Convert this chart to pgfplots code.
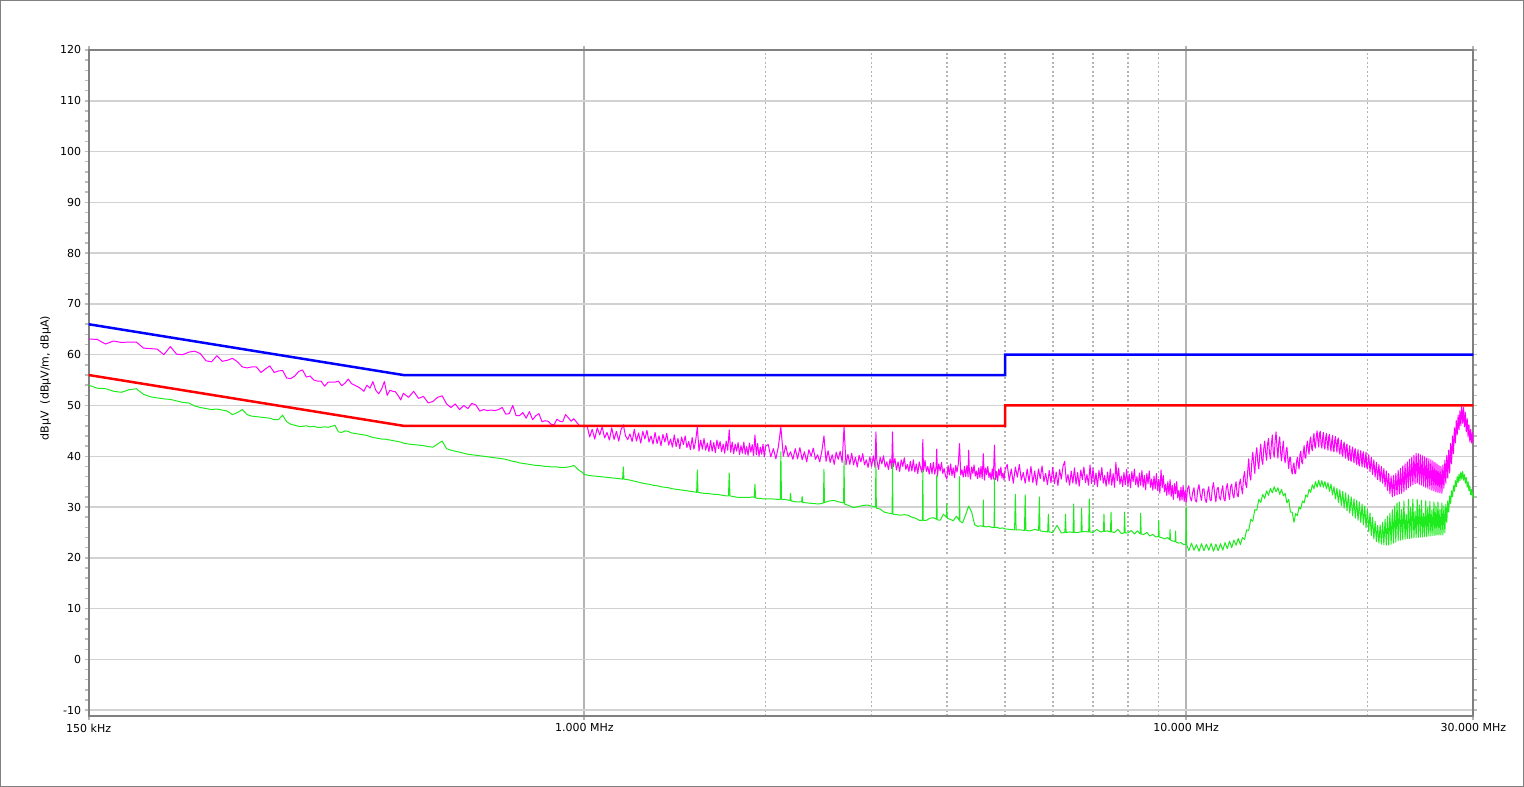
\documentclass[border=0pt]{standalone}
\usepackage{fontspec}
\setmainfont{DejaVu Sans}
\usepackage{pgfplots}
\usepackage{pgfplotstable}
\pgfplotsset{compat=1.18}
\definecolor{pkc}{RGB}{255,0,255}
\definecolor{avc}{RGB}{30,235,30}
\definecolor{qpc}{RGB}{0,0,255}
\definecolor{limc}{RGB}{255,0,0}
\definecolor{framec}{RGB}{128,128,128}
\definecolor{hgrid}{RGB}{210,210,210}
\definecolor{vgrid}{RGB}{180,180,180}
\definecolor{ticc}{RGB}{190,190,190}

% Peak trace (MHz, dBuV)
\pgfplotstableread{
f v
0.150 63.1
0.155 63.0
0.160 62.1
0.165 62.7
0.170 62.4
0.175 62.5
0.180 62.5
0.185 61.3
0.190 61.2
0.195 61.1
0.200 60.0
0.205 61.6
0.210 60.1
0.215 60.0
0.220 60.5
0.225 60.7
0.230 60.2
0.235 58.8
0.240 58.6
0.245 59.8
0.250 58.7
0.255 58.9
0.260 59.3
0.265 58.6
0.270 57.6
0.275 57.4
0.280 57.6
0.285 57.6
0.290 56.5
0.295 57.2
0.300 57.8
0.305 56.5
0.310 56.8
0.315 56.9
0.320 55.4
0.325 55.3
0.330 55.8
0.335 56.7
0.340 57.0
0.345 55.6
0.350 55.8
0.355 55.0
0.360 54.8
0.365 54.8
0.370 53.8
0.375 54.6
0.380 54.6
0.385 54.6
0.390 54.8
0.395 53.9
0.400 54.4
0.405 55.2
0.410 54.3
0.415 54.0
0.420 53.7
0.425 53.3
0.430 52.8
0.435 54.0
0.440 53.4
0.445 54.7
0.450 53.0
0.455 52.3
0.460 53.2
0.465 54.7
0.470 52.0
0.475 53.0
0.480 52.8
0.485 52.7
0.490 52.0
0.495 51.1
0.500 52.4
0.51 51.6
0.52 52.8
0.53 51.4
0.54 51.8
0.55 50.5
0.56 50.8
0.57 51.6
0.58 51.9
0.59 50.3
0.60 49.6
0.61 50.3
0.62 49.2
0.63 50.0
0.64 49.4
0.65 50.4
0.66 50.1
0.67 48.9
0.68 49.2
0.69 49.0
0.70 49.1
0.71 49.0
0.72 49.2
0.73 49.6
0.74 48.3
0.75 48.4
0.76 50.0
0.77 48.0
0.78 48.0
0.79 48.6
0.80 47.5
0.81 48.8
0.82 47.2
0.83 48.0
0.84 48.4
0.85 46.8
0.86 47.0
0.87 46.9
0.88 46.3
0.89 46.2
0.90 47.3
0.91 46.9
0.92 46.8
0.93 48.2
0.94 47.6
0.95 46.9
0.96 47.4
0.97 46.7
0.98 46.1
0.99 45.9
1.00 45.8
1.01 46.0
1.02 43.8
1.03 45.3
1.04 43.4
1.05 45.6
1.06 44.2
1.07 45.8
1.08 43.6
1.09 44.7
1.10 43.2
1.11 45.6
1.12 43.3
1.13 44.9
1.14 43.0
1.15 45.2
1.16 46.2
1.17 44.0
1.18 43.3
1.19 44.4
1.20 42.9
1.21 45.3
1.22 43.0
1.23 44.6
1.24 42.6
1.25 44.9
1.26 43.4
1.27 45.1
1.28 42.8
1.29 44.0
1.30 42.4
1.31 44.7
1.32 42.5
1.33 44.0
1.34 42.1
1.35 44.3
1.36 42.8
1.37 44.5
1.38 42.2
1.39 43.4
1.40 41.8
1.41 44.2
1.42 41.9
1.43 43.5
1.44 41.5
1.45 43.8
1.46 42.3
1.47 44.0
1.48 41.7
1.49 42.9
1.50 41.3
1.51 43.7
1.52 41.4
1.53 43.0
1.54 45.8
1.55 41.0
1.56 43.2
1.57 41.4
1.58 43.5
1.59 41.2
1.60 42.6
1.61 40.9
1.62 43.1
1.63 41.0
1.64 42.7
1.65 40.7
1.66 43.2
1.67 41.5
1.68 42.9
1.69 40.9
1.70 42.4
1.71 40.6
1.72 43.0
1.73 41.2
1.74 45.2
1.75 40.8
1.76 42.8
1.77 40.5
1.78 42.4
1.79 41.0
1.80 42.7
1.81 40.3
1.82 42.1
1.83 40.6
1.84 42.8
1.85 40.4
1.86 41.9
1.87 40.2
1.88 42.6
1.89 40.8
1.90 42.3
1.91 40.1
1.92 44.2
1.93 40.3
1.94 42.5
1.95 40.0
1.96 41.8
1.97 40.4
1.98 42.4
1.99 39.9
2.00 42.0
2.02 42.3
2.04 39.9
2.06 41.5
2.08 39.5
2.10 41.9
2.12 45.8
2.14 40.0
2.16 42.1
2.18 39.9
2.20 40.9
2.22 39.4
2.24 41.5
2.26 39.5
2.28 41.7
2.30 39.3
2.32 40.9
2.34 38.9
2.36 41.3
2.38 40.0
2.40 41.6
2.42 39.4
2.44 40.3
2.46 38.9
2.48 41.0
2.50 44.0
2.52 39.0
2.54 41.1
2.56 38.8
2.58 40.3
2.60 38.4
2.62 40.8
2.64 39.4
2.66 41.0
2.68 38.8
2.70 45.8
2.72 38.3
2.74 40.4
2.76 38.4
2.78 40.6
2.80 38.3
2.82 39.8
2.84 37.9
2.86 40.2
2.88 38.9
2.90 40.5
2.92 38.3
2.94 39.3
2.96 37.8
2.98 39.9
3.00 38.0
3.02 40.1
3.04 37.8
3.05 44.8
3.06 39.4
3.08 37.4
3.10 39.8
3.12 38.5
3.14 40.1
3.16 37.9
3.18 38.9
3.20 37.4
3.22 39.5
3.24 37.6
3.25 44.8
3.26 38.0
3.28 39.6
3.30 37.3
3.32 38.9
3.34 37.0
3.36 39.3
3.38 38.0
3.40 39.7
3.42 37.4
3.44 38.4
3.46 37.0
3.48 39.0
3.50 37.1
3.52 39.3
3.54 36.9
3.56 38.5
3.58 36.6
3.60 38.9
3.62 37.6
3.64 36.8
3.65 43.3
3.66 37.0
3.68 39.2
3.70 37.0
3.72 38.0
3.74 36.5
3.76 38.6
3.78 36.6
3.80 38.8
3.82 36.5
3.84 37.9
3.85 41.4
3.86 36.1
3.88 38.5
3.90 37.1
3.92 38.8
3.94 36.6
3.96 37.6
3.98 36.2
4.00 35.5
4.02 38.2
4.04 36.3
4.06 38.5
4.08 36.2
4.10 37.7
4.12 35.8
4.14 38.2
4.16 36.9
4.18 38.5
4.20 42.5
4.22 36.3
4.24 37.3
4.26 35.9
4.28 38.0
4.30 36.0
4.32 38.2
4.34 35.9
4.35 41.2
4.36 37.4
4.38 35.5
4.40 37.9
4.42 36.6
4.44 38.3
4.46 36.1
4.48 37.1
4.50 35.6
4.52 37.7
4.54 35.8
4.56 38.0
4.58 35.6
4.60 40.5
4.62 35.3
4.64 37.7
4.66 36.4
4.68 38.0
4.70 35.8
4.72 36.8
4.74 35.4
4.76 37.5
4.78 35.5
4.80 42.2
4.82 35.4
4.84 37.0
4.86 35.1
4.88 37.5
4.90 36.2
4.92 37.9
4.94 35.7
4.96 36.7
4.98 35.3
5.00 37.4
5.04 38.4
5.08 35.2
5.12 37.5
5.16 34.7
5.20 37.9
5.24 35.9
5.28 38.4
5.32 35.3
5.36 36.8
5.40 34.7
5.44 37.5
5.48 35.0
5.52 38.0
5.56 34.8
5.60 37.1
5.64 34.3
5.68 37.5
5.72 35.6
5.76 38.1
5.80 35.0
5.84 36.6
5.88 34.4
5.92 37.2
5.96 34.8
6.00 37.8
6.04 34.6
6.08 36.9
6.12 34.2
6.16 37.4
6.20 35.5
6.24 38.0
6.28 39.0
6.32 34.9
6.36 36.4
6.40 34.3
6.44 37.1
6.48 34.7
6.52 37.7
6.56 34.5
6.60 36.8
6.64 34.1
6.68 37.3
6.72 35.4
6.76 37.9
6.80 34.8
6.84 36.4
6.88 34.3
6.92 38.3
6.96 34.6
7.00 37.6
7.04 34.4
7.08 36.7
7.12 34.0
7.16 37.2
7.20 35.3
7.24 37.8
7.28 34.7
7.32 36.2
7.36 34.1
7.40 36.9
7.44 34.5
7.48 37.5
7.52 34.3
7.56 36.6
7.60 33.9
7.64 38.8
7.68 35.2
7.72 37.7
7.76 34.5
7.80 36.1
7.84 34.0
7.88 36.8
7.92 34.4
7.96 37.4
8.00 34.2
8.04 36.5
8.08 33.8
8.12 37.0
8.16 35.0
8.20 37.5
8.24 34.4
8.28 36.0
8.32 33.9
8.36 36.7
8.40 34.3
8.44 37.2
8.48 33.9
8.52 36.2
8.56 33.4
8.60 36.6
8.64 34.6
8.68 37.1
8.72 33.9
8.76 35.5
8.80 33.3
8.84 36.1
8.88 33.6
8.92 36.6
8.96 33.3
9.00 35.5
9.04 32.7
9.08 37.3
9.12 33.8
9.16 36.2
9.20 33.0
9.24 34.5
9.28 32.3
9.32 35.0
9.36 32.5
9.40 35.4
9.44 32.1
9.48 34.3
9.52 31.5
9.56 34.6
9.60 32.6
9.64 35.0
9.68 31.8
9.72 33.3
9.76 31.2
9.80 33.9
9.84 31.4
9.88 34.3
9.92 31.1
9.96 33.3
10.00 31.0
10.05 33.6
10.1 34.2
10.15 31.9
10.2 31.2
10.25 32.9
10.3 33.8
10.35 31.3
10.4 31.0
10.45 33.4
10.5 34.4
10.55 32.5
10.6 31.3
10.65 33.5
10.7 33.6
10.75 31.5
10.8 30.9
10.85 32.9
10.9 34.0
10.95 31.5
11.0 31.2
11.05 33.7
11.1 34.8
11.15 32.6
11.2 31.0
11.25 33.5
11.3 33.9
11.35 31.9
11.4 31.4
11.45 33.2
11.5 34.2
11.55 31.6
11.6 31.2
11.65 33.6
11.7 34.6
11.75 32.8
11.8 31.5
11.85 34.0
11.9 34.5
11.95 32.4
12.0 31.8
12.05 33.8
12.1 35.0
12.15 32.4
12.2 32.0
12.25 34.5
12.3 35.5
12.35 33.8
12.4 32.6
12.45 35.8
12.5 37.0
12.55 34.6
12.6 33.8
12.65 37.1
12.7 39.5
12.75 36.3
12.8 35.3
12.85 38.8
12.9 40.8
12.95 38.4
13.0 36.6
13.05 40.2
13.1 41.7
13.15 38.8
13.2 37.5
13.25 40.4
13.3 42.4
13.35 39.3
13.4 38.4
13.45 41.4
13.5 43.0
13.55 40.8
13.6 39.2
13.65 42.4
13.7 43.5
13.75 40.7
13.8 39.5
13.85 42.3
13.9 44.2
13.95 40.9
14.0 39.8
14.05 43.0
14.1 44.8
14.15 41.9
14.2 39.6
14.25 42.7
14.3 43.8
14.35 40.7
14.4 39.1
14.45 41.5
14.5 43.0
14.55 39.8
14.6 38.7
14.65 41.0
14.7 41.8
14.75 39.4
14.8 37.6
14.85 39.7
14.9 39.8
14.95 37.4
15.0 36.5
15.05 38.0
15.1 38.7
15.15 36.6
15.2 36.6
15.25 38.9
15.3 39.8
15.35 38.4
15.4 37.5
15.45 40.3
15.5 41.0
15.55 39.0
15.6 38.5
15.65 40.7
15.7 42.1
15.75 39.8
15.8 39.6
15.85 42.0
15.9 43.0
15.95 41.4
16.0 40.4
16.05 43.1
16.1 43.8
16.15 41.7
16.2 41.1
16.25 43.2
16.3 44.5
16.35 42.0
16.4 41.6
16.45 44.0
16.5 45.0
16.55 43.1
16.6 41.8
16.65 44.4
16.7 44.9
16.75 42.5
16.8 41.6
16.85 43.6
16.9 44.7
16.95 42.0
17.0 41.4
17.05 43.7
17.1 44.5
17.15 42.6
17.2 41.2
17.25 43.8
17.3 44.3
17.35 41.9
17.4 41.0
17.45 43.0
17.5 44.1
17.55 41.4
17.6 40.9
17.65 43.1
17.7 43.9
17.75 42.1
17.8 40.8
17.85 43.2
17.9 43.6
17.95 41.2
18.0 40.4
18.05 42.2
18.1 43.2
18.15 40.5
18.2 40.0
18.25 42.1
18.3 42.8
18.35 40.9
18.4 39.6
18.45 42.0
18.5 42.4
18.55 40.0
18.6 39.2
18.65 41.0
18.7 42.1
18.75 39.4
18.8 39.0
18.85 41.1
18.9 41.8
18.95 40.0
19.0 38.7
19.05 41.1
19.1 41.5
19.15 39.1
19.2 38.4
19.25 40.2
19.3 41.3
19.35 38.6
19.4 38.1
19.45 40.3
19.5 41.1
19.55 39.2
19.6 37.9
19.65 40.4
19.7 40.9
19.75 38.5
19.8 37.8
19.85 39.7
19.9 40.8
19.95 38.0
20.0 37.5
20.1 40.3
20.2 37.0
20.3 39.8
20.4 36.4
20.5 39.3
20.6 35.9
20.7 38.8
20.8 35.4
20.9 38.4
21.0 35.0
21.1 38.0
21.2 34.7
21.3 37.6
21.4 34.0
21.5 37.1
21.6 33.3
21.7 36.6
21.8 32.6
21.9 36.1
22.0 32.0
22.1 36.2
22.2 32.2
22.3 36.6
22.4 32.4
22.5 37.2
22.6 32.6
22.7 37.6
22.8 32.7
22.9 38.1
23.0 33.0
23.1 38.5
23.2 33.4
23.3 38.9
23.4 33.8
23.5 39.4
23.6 34.1
23.7 39.8
23.8 34.4
23.9 40.2
24.0 34.6
24.1 40.6
24.2 34.7
24.3 40.5
24.4 34.5
24.5 40.3
24.6 34.3
24.7 40.1
24.8 34.1
24.9 39.9
25.0 33.9
25.1 39.7
25.2 33.7
25.3 39.5
25.4 33.5
25.5 39.3
25.6 33.3
25.7 39.1
25.8 33.2
25.9 38.8
26.0 33.0
26.1 38.5
26.2 32.9
26.3 38.2
26.4 32.8
26.5 38.0
26.6 32.7
26.7 38.3
26.8 33.7
26.9 39.2
27.0 34.7
27.1 40.2
27.2 35.7
27.3 41.2
27.4 36.7
27.5 42.5
27.6 38.5
27.7 44.0
27.8 40.5
27.9 45.6
28.0 42.6
28.1 47.0
28.2 44.2
28.3 48.1
28.4 45.2
28.5 49.0
28.6 46.0
28.7 49.8
28.8 46.5
28.9 49.6
29.0 45.8
29.1 48.6
29.2 44.8
29.3 47.4
29.4 43.8
29.5 46.2
29.6 42.8
29.7 45.3
29.8 42.6
29.9 44.7
30.0 42.5
}\pktab

% Average trace (MHz, dBuV)
\pgfplotstableread{
f v
0.150 54.0
0.155 53.4
0.160 53.3
0.165 52.8
0.170 52.6
0.175 53.1
0.180 53.3
0.185 52.2
0.190 51.7
0.195 51.5
0.200 51.3
0.205 51.2
0.210 50.9
0.215 50.6
0.220 50.5
0.225 49.9
0.230 49.6
0.235 49.4
0.240 49.2
0.245 49.3
0.250 49.1
0.255 48.9
0.260 48.2
0.265 48.6
0.270 49.2
0.275 48.2
0.280 47.9
0.285 47.8
0.290 47.7
0.295 47.6
0.300 47.5
0.305 47.2
0.310 47.2
0.315 48.1
0.320 46.8
0.325 46.3
0.330 46.1
0.335 45.9
0.340 45.9
0.345 46.0
0.350 45.8
0.355 45.9
0.360 45.7
0.365 45.7
0.370 45.8
0.375 45.7
0.380 45.9
0.385 46.1
0.390 44.8
0.395 44.7
0.400 45.0
0.405 44.9
0.410 44.6
0.415 44.5
0.420 44.4
0.425 44.3
0.430 44.2
0.435 44.1
0.440 43.9
0.445 43.7
0.450 43.6
0.455 43.5
0.460 43.4
0.465 43.4
0.470 43.3
0.475 43.2
0.480 43.1
0.485 43.0
0.490 42.9
0.495 42.8
0.500 42.6
0.51 42.4
0.52 42.3
0.53 42.2
0.54 42.1
0.55 41.9
0.56 41.8
0.57 42.4
0.58 43.0
0.59 41.5
0.60 41.2
0.61 41.0
0.62 40.8
0.63 40.6
0.64 40.4
0.65 40.3
0.66 40.2
0.67 40.1
0.68 40.0
0.69 39.9
0.70 39.8
0.71 39.7
0.72 39.6
0.73 39.5
0.74 39.4
0.75 39.2
0.76 39.0
0.77 38.9
0.78 38.7
0.79 38.6
0.80 38.5
0.81 38.4
0.82 38.3
0.83 38.2
0.84 38.2
0.85 38.1
0.86 38.0
0.87 38.0
0.88 37.9
0.89 37.9
0.90 37.9
0.91 37.8
0.92 37.8
0.93 37.8
0.94 37.9
0.95 38.0
0.96 38.2
0.97 37.7
0.98 37.2
0.99 36.9
1.00 36.4
1.02 36.2
1.04 36.1
1.06 36.0
1.08 35.9
1.10 35.8
1.12 35.7
1.14 35.6
1.157 35.5
1.16 37.9
1.163 35.5
1.18 35.4
1.20 35.2
1.22 35.0
1.24 34.8
1.26 34.6
1.28 34.5
1.30 34.3
1.32 34.2
1.34 34.0
1.36 33.9
1.38 33.8
1.40 33.6
1.42 33.5
1.44 33.4
1.46 33.3
1.48 33.2
1.50 33.1
1.52 33.0
1.536 32.9
1.54 37.3
1.544 32.9
1.56 32.8
1.58 32.7
1.60 32.7
1.62 32.6
1.64 32.5
1.66 32.5
1.68 32.4
1.70 32.3
1.72 32.2
1.735 32.2
1.74 36.7
1.745 32.2
1.76 32.1
1.78 32.0
1.80 31.9
1.82 31.9
1.84 31.9
1.86 31.9
1.88 31.9
1.90 32.0
1.915 31.9
1.92 34.5
1.925 31.8
1.94 31.7
1.96 31.7
1.98 31.6
2.00 31.6
2.05 31.6
2.10 31.5
2.115 31.5
2.12 40.9
2.125 31.5
2.15 31.5
2.195 31.3
2.20 32.7
2.205 31.2
2.25 31.0
2.295 31.0
2.30 32.1
2.305 30.9
2.35 30.8
2.40 30.7
2.45 30.6
2.495 30.8
2.50 37.4
2.505 30.9
2.55 31.2
2.60 31.3
2.65 31.0
2.695 30.8
2.70 39.2
2.705 30.6
2.75 30.3
2.80 29.9
2.85 30.1
2.90 30.3
2.95 30.4
3.00 30.2
3.045 30.0
3.05 39.2
3.055 29.8
3.10 29.6
3.15 29.0
3.20 28.8
3.245 28.7
3.25 38.6
3.255 28.6
3.30 28.5
3.35 28.4
3.40 28.5
3.45 28.4
3.50 28.0
3.55 27.8
3.60 27.4
3.645 27.4
3.65 37.3
3.655 27.4
3.70 27.4
3.75 27.8
3.80 27.9
3.845 27.6
3.85 36.3
3.855 27.5
3.90 27.4
3.95 28.6
3.995 28.0
4.00 30.7
4.005 27.8
4.05 27.6
4.10 27.3
4.15 28.2
4.195 27.4
4.20 36.0
4.205 27.2
4.25 26.9
4.30 28.5
4.35 30.2
4.40 29.0
4.45 26.5
4.50 26.2
4.55 26.3
4.595 26.2
4.60 31.4
4.605 26.2
4.65 26.1
4.70 26.2
4.75 26.0
4.795 26.0
4.80 35.7
4.805 26.0
4.85 26.0
4.90 25.8
4.95 25.9
5.00 25.7
5.1 25.6
5.185 25.5
5.2 32.5
5.215 25.5
5.3 25.5
5.385 25.4
5.4 32.4
5.415 25.4
5.5 25.3
5.6 25.6
5.685 25.4
5.7 32.0
5.715 25.3
5.8 25.2
5.885 25.1
5.9 28.6
5.915 25.1
6.0 25.0
6.1 26.4
6.2 24.9
6.285 25.0
6.3 28.6
6.315 25.0
6.4 25.1
6.485 25.0
6.5 30.6
6.515 25.0
6.6 25.0
6.685 25.1
6.7 29.8
6.715 25.1
6.8 25.2
6.885 25.1
6.9 31.6
6.915 25.1
7.0 25.0
7.1 25.6
7.2 25.1
7.285 25.2
7.3 28.6
7.315 25.2
7.4 25.3
7.485 25.1
7.5 29.0
7.515 25.1
7.6 25.0
7.7 25.6
7.8 24.8
7.885 24.9
7.9 29.0
7.915 24.9
8.0 24.9
8.1 25.4
8.2 24.7
8.3 25.3
8.385 24.7
8.4 28.8
8.415 24.7
8.5 24.6
8.6 25.0
8.7 24.3
8.8 24.6
8.9 24.1
8.985 24.2
9.0 27.4
9.015 24.1
9.1 24.0
9.2 23.7
9.3 24.0
9.385 23.6
9.4 25.6
9.415 23.5
9.5 23.3
9.585 23.2
9.6 25.3
9.615 23.1
9.7 22.9
9.8 23.0
9.9 22.6
9.985 22.7
10.0 30.0
10.015 22.6
10.1 21.4
10.2 22.9
10.3 21.5
10.4 22.6
10.5 21.3
10.6 22.8
10.7 21.4
10.8 22.7
10.9 21.5
11.0 22.8
11.1 21.3
11.2 22.7
11.3 21.4
11.4 22.8
11.5 21.5
11.6 23.0
11.7 21.8
11.8 23.3
11.9 22.0
12.0 23.5
12.1 22.5
12.2 23.8
12.3 22.6
12.4 24.0
12.5 23.6
12.6 25.5
12.7 25.4
12.8 27.6
12.9 27.2
13.0 29.5
13.1 29.4
13.2 31.5
13.3 30.9
13.4 32.5
13.5 31.7
13.6 33.2
13.7 32.3
13.8 33.7
13.9 32.8
14.0 34.0
14.1 33.0
14.2 33.8
14.3 32.5
14.4 33.5
14.5 32.2
14.6 32.7
14.7 30.8
14.8 31.5
14.9 29.0
15.0 29.0
15.1 27.0
15.2 28.7
15.3 28.3
15.4 30.0
15.5 29.6
15.6 31.2
15.7 30.8
15.8 32.4
15.9 32.0
16.0 33.5
16.1 32.9
16.2 34.4
16.3 33.6
16.4 35.0
16.5 33.9
16.6 35.3
16.7 34.0
16.8 35.2
16.9 33.9
17.0 35.0
17.1 33.6
17.2 34.8
17.3 33.1
17.4 34.5
17.5 32.4
17.6 34.0
17.7 31.6
17.8 33.7
17.9 30.9
18.0 33.4
18.1 30.3
18.2 33.1
18.3 29.8
18.4 32.8
18.5 29.3
18.6 32.4
18.7 28.8
18.8 32.0
18.9 28.3
19.0 31.6
19.1 27.8
19.2 31.3
19.3 27.4
19.4 31.0
19.5 27.0
19.6 30.6
19.7 26.5
19.8 30.2
19.9 25.9
20.0 29.6
20.1 25.2
20.2 28.8
20.3 24.4
20.4 28.0
20.5 23.7
20.6 27.2
20.7 23.2
20.8 26.4
20.9 22.9
21.0 26.5
21.1 22.7
21.2 27.0
21.3 22.6
21.4 27.6
21.5 22.5
21.6 28.2
21.7 22.5
21.8 28.8
21.9 22.7
22.0 29.5
22.1 22.9
22.2 30.2
22.3 23.1
22.4 30.8
22.5 23.4
22.6 31.0
22.7 23.5
22.8 29.5
22.9 23.6
23.0 31.2
23.1 23.7
23.2 28.6
23.3 23.8
23.4 31.5
23.5 23.8
23.6 30.0
23.7 23.9
23.8 31.6
23.9 24.0
24.0 29.2
24.1 24.0
24.2 31.5
24.3 24.0
24.4 30.4
24.5 24.1
24.6 31.3
24.7 24.1
24.8 28.8
24.9 24.2
25.0 31.2
25.1 24.2
25.2 30.0
25.3 24.3
25.4 31.1
25.5 24.3
25.6 29.4
25.7 24.4
25.8 31.0
25.9 24.4
26.0 30.2
26.1 24.5
26.2 31.0
26.3 24.5
26.4 29.6
26.5 24.5
26.6 30.8
26.7 24.5
26.8 30.2
26.9 25.0
27.0 30.5
27.1 27.0
27.2 31.2
27.3 29.0
27.4 32.2
27.5 30.7
27.6 33.2
27.7 32.0
27.8 34.2
27.9 33.1
28.0 35.2
28.1 34.0
28.2 36.0
28.3 34.8
28.4 36.5
28.5 35.2
28.6 36.9
28.7 35.5
28.8 37.0
28.9 35.3
29.0 36.4
29.1 34.7
29.2 35.8
29.3 33.9
29.4 35.0
29.5 33.2
29.6 34.2
29.7 32.4
29.8 33.5
29.9 31.8
30.0 33.0
}\avtab

\begin{document}
\begin{tikzpicture}[x=1pt,y=1pt]
\useasboundingbox (0,0) rectangle (1524,787);
\draw[framec, line width=1pt] (0.5,0.5) rectangle (1523.5,786.5);
\begin{axis}[
  at={(88.7pt,70.7pt)}, anchor=south west,
  scale only axis, width=1384.6pt, height=666.3pt,
  xmode=log, xmin=0.15, xmax=30, ymin=-11.2, ymax=120,
  xtick={0.15,1,10,30},
  xticklabels={150 kHz,1.000 MHz,10.000 MHz,30.000 MHz},
  minor xtick={2,3,4,5,6,7,8,9,20},
  ytick={-10,0,10,20,30,40,50,60,70,80,90,100,110,120},
  minor y tick num=4,
  tick align=outside,
  major tick length=4pt, minor tick length=4pt,
  major x tick style={vgrid, line width=2pt},
  minor x tick style={draw=none},
  major y tick style={ticc, line width=1.5pt},
  minor y tick style={ticc, line width=1.5pt},
  xmajorgrids, xminorgrids, ymajorgrids,
  major x grid style={vgrid, line width=2pt},
  minor x grid style={vgrid, line width=1.5pt, dash pattern=on 2pt off 2.5pt},
  major y grid style={hgrid, line width=1.5pt},
  axis line style={framec, line width=2pt},
  ticklabel style={font=\fontsize{11}{13}\selectfont, text=black},
  /pgf/number format/assume math mode=true,
  ylabel={dBµV\ \ (dBµV/m, dBµA)},
  ylabel style={font=\fontsize{11}{13}\selectfont, at={(axis description cs:-0.0311,0.5075)}, anchor=center},
]
\addplot[pkc, line width=1pt, line join=round] table[x=f,y=v]{\pktab};
\addplot[avc, line width=1pt, line join=round] table[x=f,y=v]{\avtab};
\addplot[qpc, line width=2.5pt] coordinates {(0.15,66) (0.5,56) (5,56) (5,60) (30,60)};
\addplot[limc, line width=2.5pt] coordinates {(0.15,56) (0.5,46) (5,46) (5,50) (30,50)};
\end{axis}
\end{tikzpicture}
\end{document}
